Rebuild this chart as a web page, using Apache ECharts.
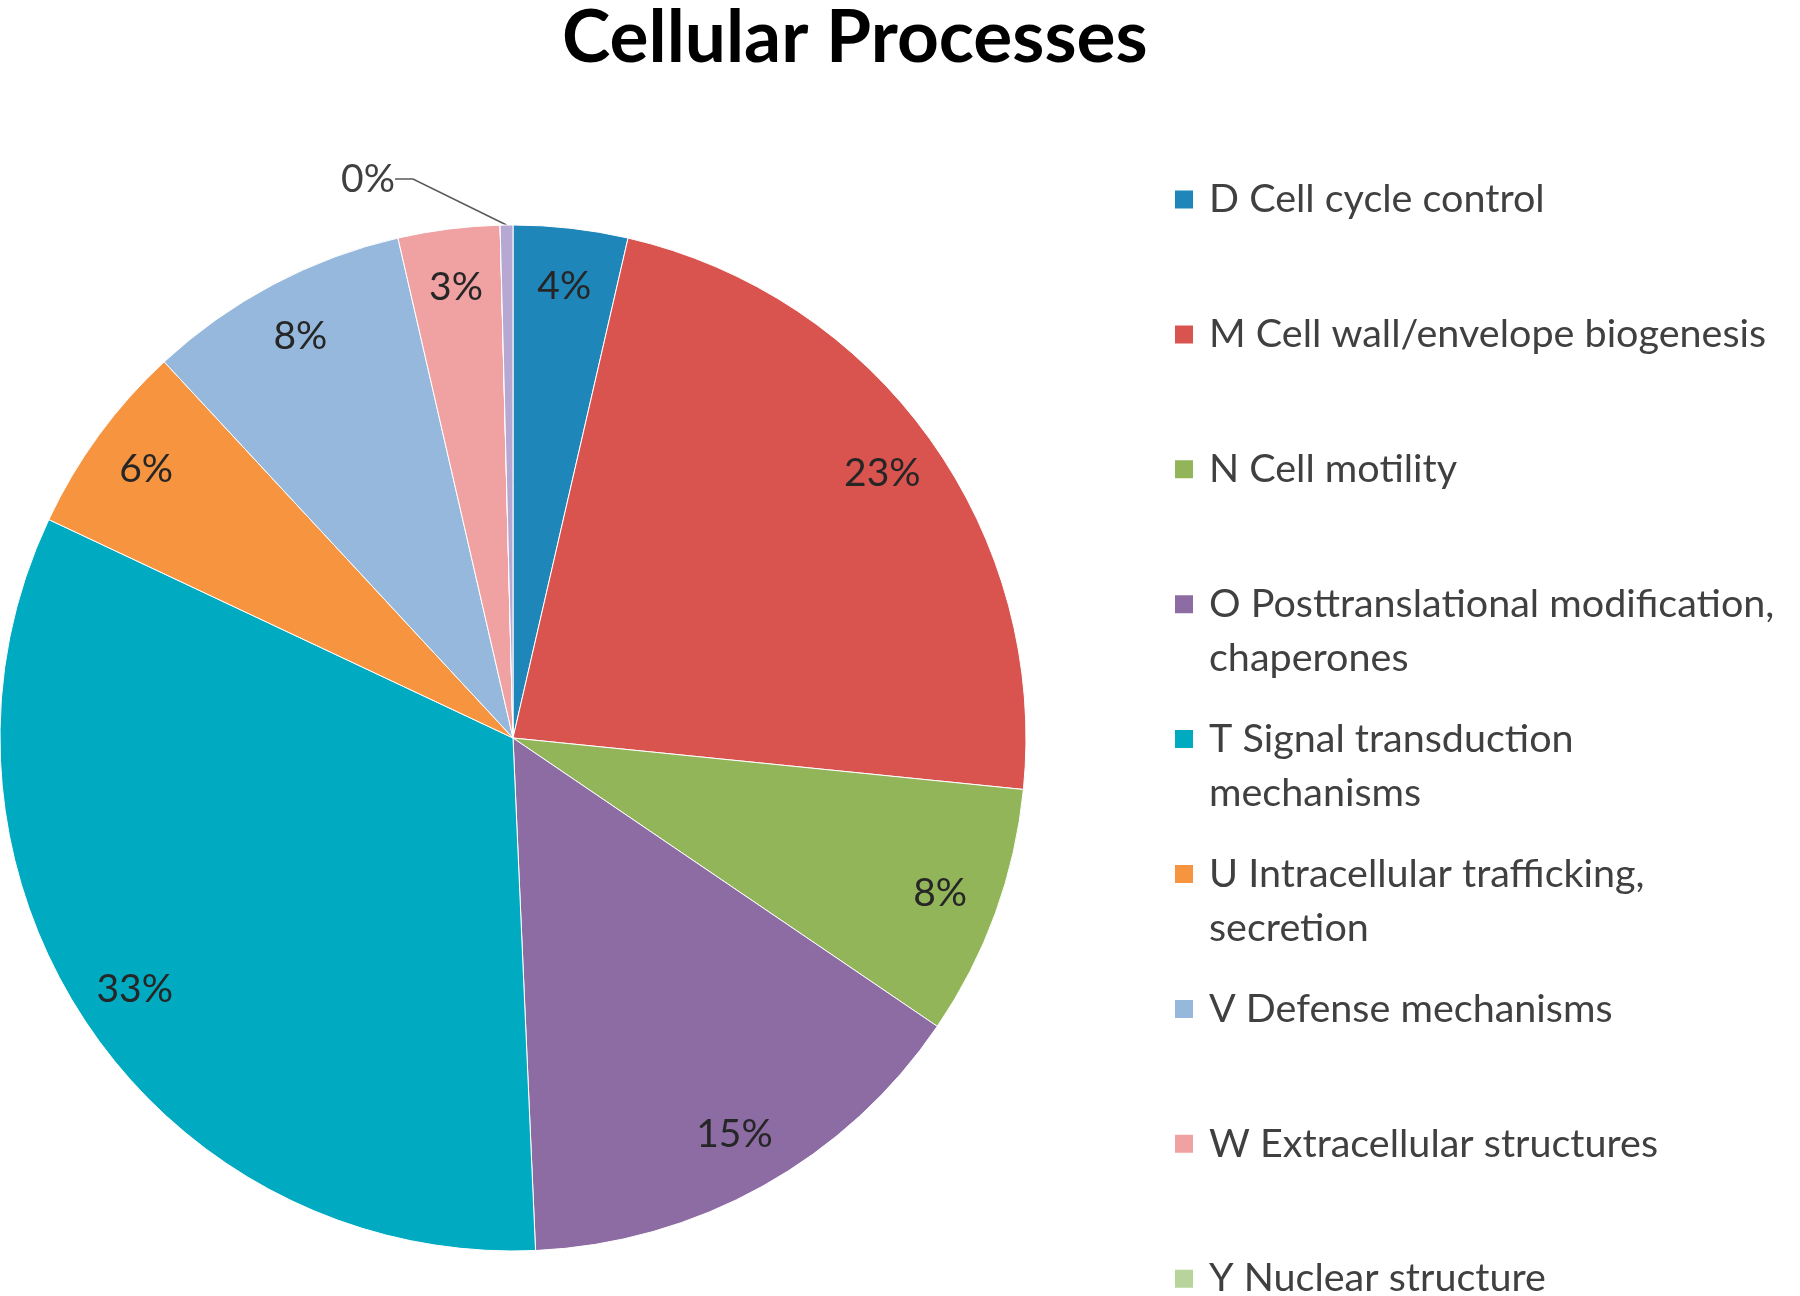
<!DOCTYPE html>
<html><head><meta charset="utf-8">
<script src="https://cdn.jsdelivr.net/npm/echarts@6/dist/echarts.min.js"></script>
<style>html,body{margin:0;padding:0;background:#fff}#c{width:1800px;height:1296px}</style>
</head><body><div id="c"></div>
<script>
const chartTitle = 'Cellular Processes';
const categories = [
  'D Cell cycle control',
  'M Cell wall/envelope biogenesis',
  'N Cell motility',
  'O Posttranslational modification,\nchaperones',
  'T Signal transduction\nmechanisms',
  'U Intracellular trafficking,\nsecretion',
  'V Defense mechanisms',
  'W Extracellular structures',
  'Y Nuclear structure',
  'Z Cytoskeleton'
];
// share of genes (%)
const values = [3.6, 23.0, 7.9, 14.8, 32.7, 6.1, 8.3, 3.2, 0, 0.4];
const colors = ['#1f86b9', '#d9534f', '#93b55a', '#8c6ca3', '#00abc2', '#f7943f', '#96b8dc', '#f0a1a1', '#b9d49b', '#b7a8d3'];
// legend entries visible in the picture (the last one is cut off at the bottom)
const legendCount = 9;

const FONT = 'Lato, "Open Sans", sans-serif';
const cx = 513, cy = 738, R = 513;
const pct = p => Math.round(p.percent) + '%';
const lastIdx = categories.length - 1;

const mainData = categories.map((n, i) => {
  const d = { name: n, value: values[i], itemStyle: { color: colors[i] } };
  if (i === lastIdx) {
    d.label = { show: true, position: 'outside', formatter: pct, fontFamily: FONT, fontSize: 39, color: '#404040' };
    d.labelLine = { show: true, length: 30, length2: 18, lineStyle: { color: '#595959', width: 1.5 } };
  }
  return d;
});
const labelData = categories.map((n, i) => ({
  name: n, value: values[i],
  label: { show: values[i] >= 1 }
}));

const LH = 54;
const legendX = 1173, legendY0 = 199.5, legendStep = 134.9;
const legends = categories.slice(0, legendCount).map((n, i) => {
  const multi = n.indexOf('\n') >= 0;
  return {
    data: [n],
    orient: 'vertical',
    left: legendX,
    top: legendY0 + i * legendStep - (multi ? LH * 1.5 : LH / 2),
    padding: 0,
    itemWidth: 20, itemHeight: 20, icon: 'rect',
    selectedMode: false,
    formatter: name => (name.indexOf('\n') >= 0 ? '\n' + name : name),
    textStyle: {
      fontFamily: FONT, fontSize: 39.5, color: '#404040', lineHeight: LH,
      padding: [0, 0, 0, 10]
    }
  };
});

const chart = echarts.init(document.getElementById('c'), null, { renderer: 'canvas' });
chart.setOption({
  backgroundColor: '#ffffff',
  animation: false,
  title: {
    text: chartTitle, left: 562, top: -2, padding: [0, 0, 0, 0],
    textStyle: { fontFamily: FONT, fontSize: 73, fontWeight: 'bold', color: '#000', lineHeight: 80 }
  },
  legend: legends,
  series: [
    {
      type: 'pie', center: [cx, cy], radius: [0, R], startAngle: 90, clockwise: true,
      avoidLabelOverlap: false, silent: true,
      itemStyle: { borderColor: '#ffffff', borderWidth: 1 },
      label: { show: false },
      labelLine: { show: false },
      emphasis: { disabled: true },
      labelLayout: function (params) {
        if (params.dataIndex !== lastIdx) return;
        return { x: cx - 118, y: cy - R - 46, align: 'right', verticalAlign: 'middle' };
      },
      data: mainData
    },
    {
      type: 'pie', center: [cx, cy], radius: [R * 0.76, R], startAngle: 90, clockwise: true,
      silent: true, avoidLabelOverlap: false,
      itemStyle: { color: 'rgba(0,0,0,0)', borderWidth: 0 },
      label: { show: true, position: 'inside', formatter: pct, fontFamily: FONT, fontSize: 39, color: '#262626' },
      labelLine: { show: false },
      emphasis: { disabled: true },
      data: labelData
    }
  ]
});
</script></body></html>
